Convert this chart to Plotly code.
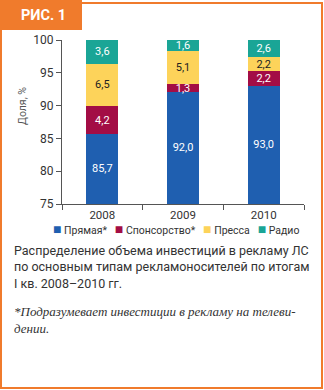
import plotly.graph_objects as go

years = ["2008", "2009", "2010"]
series_names = ["Прямая*", "Спонсорство*", "Пресса", "Радио"]
direct = [85.7, 92.0, 93.0]
sponsor = [4.2, 1.3, 2.2]
press = [6.5, 5.1, 2.2]
radio = [3.6, 1.6, 2.6]
series_values = [direct, sponsor, press, radio]
colors = ["#1f5fb0", "#a30d45", "#fdd35a", "#1aa596"]
text_colors = ["white", "white", "#222222", "white"]
y_ticks = [75, 80, 85, 90, 95, 100]

caption = ("Распределение объема инвестиций в рекламу ЛС<br>"
           "по основным типам рекламоносителей по итогам<br>"
           "I кв. 2008–2010 гг.")
footnote = "*Подразумевает инвестиции в рекламу на телеви-<br>дении."
fig_label = "РИС. 1"

W, H = 324, 390
L, R, T, B = 62, 20, 40, 186
PW, PH = W - L - R, H - T - B
ORANGE = "#f07b2c"
Y_MIN, Y_MAX = y_ticks[0], y_ticks[-1]


def px(x):
    return (x - L) / PW


def py(y):
    return (H - B - y) / PH


def fmt(v):
    return f"{v:.1f}".replace(".", ",")


fig = go.Figure()
for i, (name, vals, col, tcol) in enumerate(zip(series_names, series_values, colors, text_colors)):
    fig.add_trace(go.Bar(
        x=years, y=vals, name=name, marker=dict(color=col, line=dict(width=0)),
        width=0.4,
        text=None if i == 0 else [fmt(v) for v in vals],
        textposition="none" if i == 0 else "inside",
        insidetextanchor="middle", constraintext="none",
        textfont=dict(size=11, color=tcol, family="Roboto"),
        showlegend=False, hoverinfo="skip"))

# label of the bottom series, centred on its visible part
fig.add_trace(go.Scatter(
    x=years, y=[(Y_MIN + v) / 2 for v in direct], mode="text",
    text=[fmt(v) for v in direct], textposition="middle center",
    textfont=dict(size=11, color="white", family="Roboto"),
    showlegend=False, hoverinfo="skip", cliponaxis=False))

shapes = [
    dict(type="rect", xref="paper", yref="paper", x0=px(1), x1=px(322), y0=py(388), y1=py(3),
         line=dict(color=ORANGE, width=2), fillcolor="rgba(0,0,0,0)", layer="below"),
    dict(type="rect", xref="paper", yref="paper", x0=px(0), x1=px(82), y0=py(30), y1=py(0),
         line=dict(width=0), fillcolor=ORANGE, layer="below"),
]

annotations = [
    dict(text=f"<b>{fig_label}</b>", xref="paper", yref="paper", x=px(19), y=py(15),
         xanchor="left", yanchor="middle", showarrow=False,
         font=dict(size=14.5, color="white", family="Roboto")),
    dict(text="Доля, %", xref="paper", yref="paper", x=px(22), y=py(106),
         xanchor="center", yanchor="middle", textangle=-90, showarrow=False,
         font=dict(size=10.5, color="#555555", family="Roboto")),
    dict(text=caption, xref="paper", yref="paper", x=px(12), y=py(241),
         xanchor="left", yanchor="top", align="left", showarrow=False,
         font=dict(size=12.5, color="#333333", family="Roboto")),
    dict(text=f"<i>{footnote}</i>", xref="paper", yref="paper", x=px(12), y=py(302),
         xanchor="left", yanchor="top", align="left", showarrow=False,
         font=dict(size=13, color="#333333", family="Liberation Serif")),
]

legend_parts = [f"<span style='font-size:14px;color:{c}'>■</span> {n}" for n, c in zip(series_names, colors)]
annotations.append(dict(text="   ".join(legend_parts), xref="paper", yref="paper",
                        x=px(51), y=py(229), xanchor="left", yanchor="middle", showarrow=False,
                        font=dict(size=10.5, color="#333333", family="Roboto")))

fig.update_layout(
    width=W, height=H, margin=dict(l=L, r=R, t=T, b=B),
    barmode="stack",
    paper_bgcolor="white", plot_bgcolor="white",
    shapes=shapes, annotations=annotations,
    xaxis=dict(type="category", range=[-0.5, 2.5], tickson="boundaries", ticks="outside",
               ticklen=5, tickcolor="#555555", showline=True, linecolor="#555555", linewidth=1,
               showgrid=False, tickfont=dict(size=11.5, color="#333333", family="Roboto")),
    yaxis=dict(range=[Y_MIN, Y_MAX], tickvals=y_ticks, ticks="outside", ticklen=5,
               tickcolor="#555555", showline=True, linecolor="#555555", linewidth=1,
               showgrid=False, zeroline=False,
               tickfont=dict(size=12, color="#333333", family="Roboto")),
)

fig.write_html("out.html")
